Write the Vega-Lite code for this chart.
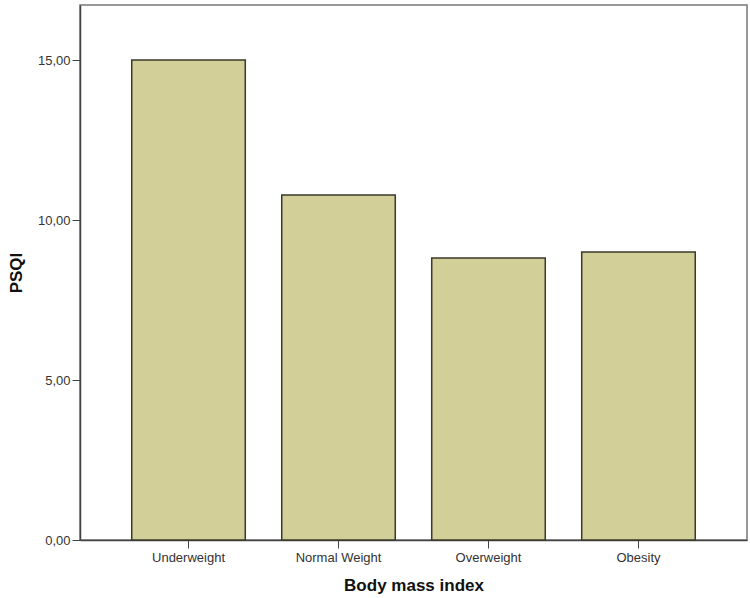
{
  "$schema": "https://vega.github.io/schema/vega-lite/v6.json",
  "autosize": {"type": "none"},
  "width": 667,
  "height": 535,
  "padding": {"left": 80, "top": 5, "right": 3, "bottom": 58},
  "background": "white",
  "config": {
    "view": {"stroke": "#777777", "strokeWidth": 1.5},
    "font": "Liberation Sans"
  },
  "data": {
    "values": [
      {"bmi": "Underweight", "psqi": 15.0},
      {"bmi": "Normal Weight", "psqi": 10.78},
      {"bmi": "Overweight", "psqi": 8.81},
      {"bmi": "Obesity", "psqi": 9.0}
    ]
  },
  "mark": {"type": "bar", "fill": "#d3cf98", "stroke": "#3a3a2a", "strokeWidth": 1.5},
  "encoding": {
    "x": {
      "field": "bmi",
      "type": "nominal",
      "sort": null,
      "scale": {"paddingInner": 0.243, "paddingOuter": 0.345},
      "axis": {
        "title": "Body mass index",
        "titleFont": "Liberation Sans",
        "titleFontSize": 17,
        "titleFontWeight": "bold",
        "titleColor": "#111111",
        "titlePadding": 13,
        "labelAngle": 0,
        "labelFontSize": 13,
        "labelColor": "#333333",
        "labelPadding": 3,
        "tickSize": 8,
        "tickColor": "#444444",
        "domainColor": "#444444",
        "domainWidth": 1.5,
        "grid": false
      }
    },
    "y": {
      "field": "psqi",
      "type": "quantitative",
      "scale": {"domain": [0, 16.72], "nice": false},
      "axis": {
        "title": "PSQI",
        "titleFont": "Liberation Sans",
        "titleFontSize": 17,
        "titleFontWeight": "bold",
        "titleColor": "#111111",
        "titlePadding": 12,
        "values": [0, 5, 10, 15],
        "labelExpr": "replace(format(datum.value, '.2f'), '.', ',')",
        "labelFontSize": 13,
        "labelColor": "#333333",
        "labelPadding": 2,
        "tickSize": 8,
        "tickColor": "#444444",
        "domainColor": "#444444",
        "domainWidth": 1.5,
        "grid": false
      }
    }
  }
}
